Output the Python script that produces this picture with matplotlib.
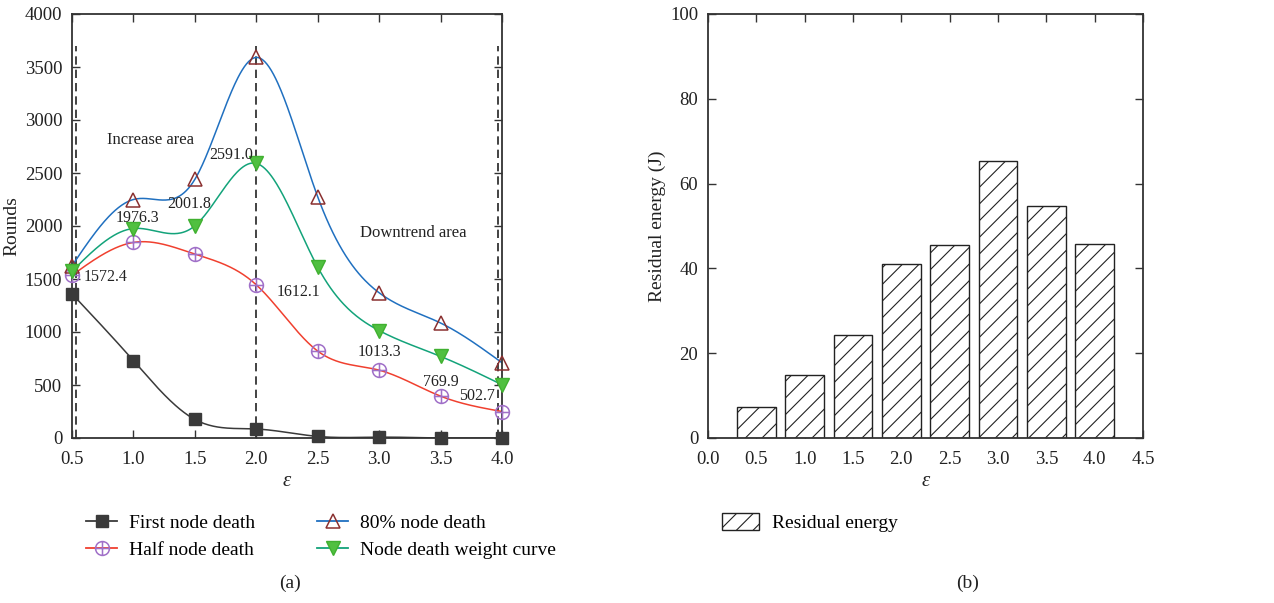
import numpy as np
import matplotlib
matplotlib.use("Agg")
import matplotlib.pyplot as plt
from matplotlib.path import Path
from matplotlib.patches import Patch
from matplotlib.lines import Line2D

plt.rcParams['font.family'] = ['Liberation Serif', 'DejaVu Serif']
plt.rcParams['hatch.linewidth'] = 0.8

# ---- data ----
eps = [0.5, 1.0, 1.5, 2.0, 2.5, 3.0, 3.5, 4.0]
first_death = [1360, 730, 175, 85, 15, 8, 0, 0]
half_death = [1535, 1845, 1735, 1445, 820, 640, 395, 250]
p80_death = [1625, 2250, 2440, 3590, 2275, 1370, 1085, 710]
weight_curve = [1572.4, 1976.3, 2001.8, 2591.0, 1612.1, 1013.3, 769.9, 502.7]
weight_labels = ["1572.4", "1976.3", "2001.8", "2591.0", "1612.1", "1013.3", "769.9", "502.7"]

energy = [7.3, 14.8, 24.3, 41.0, 45.5, 65.3, 54.6, 45.7]

# label offsets (pixels, y downward) for the weight-curve values
label_offsets = [(34, 6), (4, -11), (-6, -22), (-25, -8), (-19, 25), (0, 21), (0, 26), (-25, 11)]


def natural_spline(x, y, xs):
    x = np.asarray(x, float)
    y = np.asarray(y, float)
    n = len(x)
    h = np.diff(x)
    A = np.zeros((n, n))
    b = np.zeros(n)
    A[0, 0] = 1
    A[-1, -1] = 1
    for i in range(1, n - 1):
        A[i, i - 1] = h[i - 1]
        A[i, i] = 2 * (h[i - 1] + h[i])
        A[i, i + 1] = h[i]
        b[i] = 6 * ((y[i + 1] - y[i]) / h[i] - (y[i] - y[i - 1]) / h[i - 1])
    M = np.linalg.solve(A, b)
    idx = np.clip(np.searchsorted(x, xs) - 1, 0, n - 2)
    x0, x1 = x[idx], x[idx + 1]
    hh = x1 - x0
    t0 = x1 - xs
    t1 = xs - x0
    return (M[idx] * t0 ** 3 / (6 * hh) + M[idx + 1] * t1 ** 3 / (6 * hh)
            + (y[idx] / hh - M[idx] * hh / 6) * t0
            + (y[idx + 1] / hh - M[idx + 1] * hh / 6) * t1)


circ = Path.unit_circle()
cross = Path([[-1, 0], [1, 0], [0, -1], [0, 1]],
             [Path.MOVETO, Path.LINETO, Path.MOVETO, Path.LINETO])
oplus = Path.make_compound_path(circ, cross)

fig = plt.figure(figsize=(12.74, 6.03), dpi=100)
W, H = 1274, 603
ax1 = fig.add_axes([72 / W, 1 - 438 / H, 430 / W, 424 / H])
ax2 = fig.add_axes([708 / W, 1 - 438 / H, 435 / W, 424 / H])

spine_c = '#333333'
txt_c = '#222222'
xs = np.linspace(0.5, 4.0, 400)

series = [
    (first_death, '#3a3a3a', dict(marker='s', ms=8, mfc='#3a3a3a', mec='#3a3a3a'), 'First node death'),
    (half_death, '#f0402f', dict(marker=oplus, ms=10, mfc='none', mec='#a070c8', mew=1.1), 'Half node death'),
    (p80_death, '#2070c0', dict(marker='^', ms=10.5, mfc='none', mec='#8a3030', mew=1.1), '80% node death'),
    (weight_curve, '#13a37a', dict(marker='v', ms=10.5, mfc='#50c040', mec='#40b030'), 'Node death weight curve'),
]
handles = {}
for vals, lc, mk, name in series:
    ax1.plot(xs, natural_spline(eps, vals, xs), color=lc, lw=1.1, zorder=2)
    ax1.plot(eps, vals, ls='none', zorder=3, clip_on=False, **mk)
    handles[name] = Line2D([], [], color=lc, lw=1.3, **mk)

for dx in (0.533, 2.0, 3.965):
    ax1.plot([dx, dx], [0, 3700], ls=(0, (5, 3)), color=txt_c, lw=1.2, zorder=1)

for e, v, txt, off in zip(eps, weight_curve, weight_labels, label_offsets):
    ax1.annotate(txt, (e, v), xytext=(off[0], -off[1]), textcoords='offset pixels',
                 ha='center', va='center', fontsize=11.5, color=txt_c)

ax1.text(1.143, 2811, 'Increase area', ha='center', va='center', fontsize=12, color=txt_c)
ax1.text(3.276, 1934, 'Downtrend area', ha='center', va='center', fontsize=12, color=txt_c)

ax1.set_xlim(0.5, 4.0)
ax1.set_ylim(0, 4000)
ax1.set_xticks(eps)
ax1.set_xticklabels([f'{e:.1f}' for e in eps])
ax1.set_yticks(range(0, 4001, 500))
ax1.set_ylabel('Rounds', fontsize=14, color=txt_c, labelpad=3)
ax1.set_xlabel('ε', fontsize=15, style='italic', color=txt_c, labelpad=3)

# ---- bar chart ----
ax2.bar(eps, energy, width=0.4, color='white', edgecolor=txt_c, hatch='//', lw=1.0, zorder=2)
ax2.set_xlim(0, 4.5)
ax2.set_ylim(0, 100)
ax2.set_xticks(np.arange(0, 4.51, 0.5))
ax2.set_xticklabels([f'{v:.1f}' for v in np.arange(0, 4.51, 0.5)])
ax2.set_yticks(range(0, 101, 20))
ax2.set_ylabel('Residual energy (J)', fontsize=14, color=txt_c, labelpad=3)
ax2.set_xlabel('ε', fontsize=15, style='italic', color=txt_c, labelpad=3)

for ax in (ax1, ax2):
    for s in ax.spines.values():
        s.set_color(spine_c)
        s.set_linewidth(1.3)
    ax.tick_params(direction='in', top=True, right=True, length=6, width=1.0,
                   color=spine_c, labelsize=13.5, labelcolor=txt_c)
    ax.tick_params(axis='x', pad=9)
    ax.tick_params(axis='y', pad=7)

leg1 = fig.legend([handles['First node death'], handles['Half node death'],
                   handles['80% node death'], handles['Node death weight curve']],
                  ['First node death', 'Half node death', '80% node death', 'Node death weight curve'],
                  ncol=2, loc='upper left', bbox_to_anchor=(86 / W, 1 - 514 / H),
                  frameon=False, fontsize=14, handlelength=1.6, handletextpad=0.6,
                  columnspacing=3.2, labelspacing=0.5, borderaxespad=0, borderpad=0)

leg2 = fig.legend([Patch(facecolor='white', edgecolor=txt_c, hatch='//')],
                  ['Residual energy'], loc='upper left', bbox_to_anchor=(722 / W, 1 - 513 / H),
                  frameon=False, fontsize=14, handlelength=1.9, handleheight=0.95,
                  handletextpad=0.65, borderaxespad=0, borderpad=0)

fig.text(290 / W, 1 - 583 / H, '(a)', ha='center', va='center', fontsize=14, color=txt_c)
fig.text(968 / W, 1 - 583 / H, '(b)', ha='center', va='center', fontsize=14, color=txt_c)

fig.savefig('out.png', dpi=100, facecolor='white')
